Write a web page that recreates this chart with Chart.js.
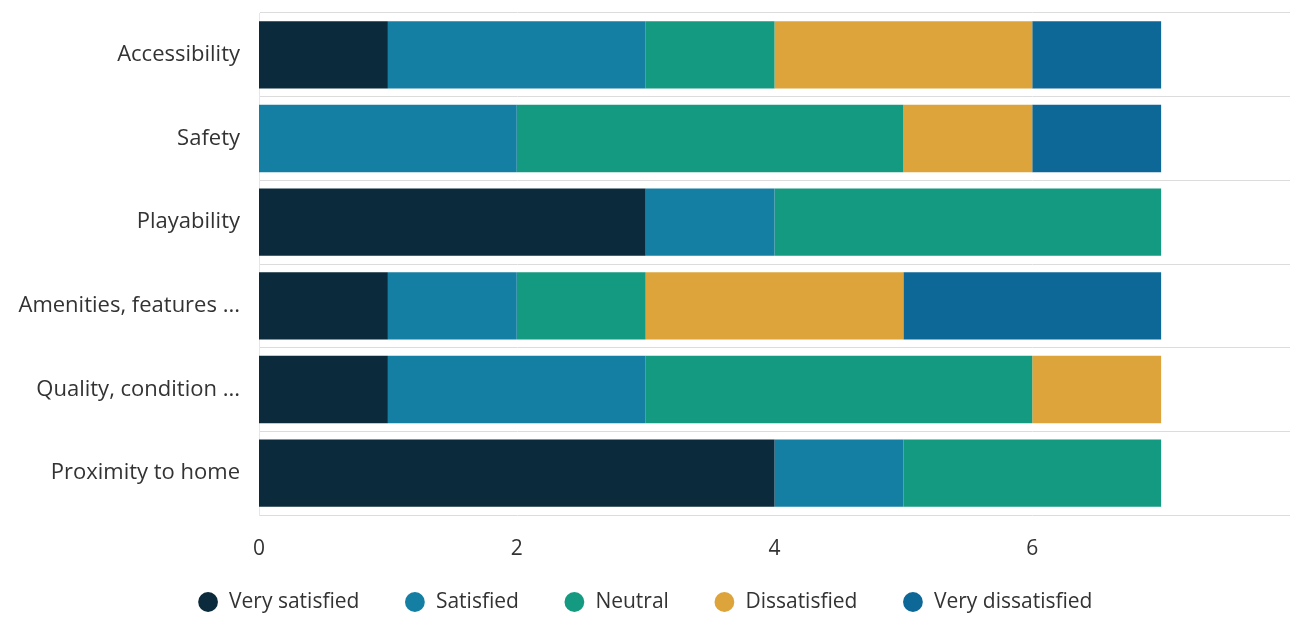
<!DOCTYPE html>
<html>
<head>
<meta charset="utf-8">
<script src="https://cdn.jsdelivr.net/npm/chart.js@4"></script>
<style>
html,body{margin:0;padding:0;background:#fff;}
#wrap{width:1290px;height:622px;position:relative;}
</style>
</head>
<body>
<div id="wrap"><canvas id="c"></canvas></div>
<script>
const categories = ["Accessibility","Safety","Playability","Amenities, features ...","Quality, condition ...","Proximity to home"];
const seriesNames = ["Very satisfied","Satisfied","Neutral","Dissatisfied","Very dissatisfied"];
const verySatisfied   = [1,0,3,1,1,4];
const satisfied       = [2,2,1,1,2,1];
const neutral         = [1,3,3,1,3,2];
const dissatisfied    = [2,1,0,2,1,0];
const veryDissatisfied= [1,1,0,2,0,0];
const xTicks = [0,2,4,6];
const colors = ["#0b2a3b","#147fa3","#149a80","#dca43b","#0e6897"];

const values = [verySatisfied,satisfied,neutral,dissatisfied,veryDissatisfied];
const font = "'Open Sans', 'Noto Sans', sans-serif";

// keeps the legend's wide item spacing without letting its padding eat vertical space
const legendFix = {
  id: 'legendFix',
  beforeLayout(chart) {
    const lg = chart.legend;
    if (lg && !lg._patched) {
      const f = lg.fit;
      lg.fit = function(){ f.call(this); this.height = 60; };
      lg._patched = true;
    }
  },
  afterLayout(chart) {
    const lg = chart.legend;
    if (!lg) return;
    lg.top = chart.chartArea.bottom + 31.5;
    lg.bottom = chart.height;
    lg.height = lg.bottom - lg.top;
  }
};

new Chart(document.getElementById('c'), {
  type: 'bar',
  data: {
    labels: categories,
    datasets: seriesNames.map((n,i)=>({
      label: n,
      data: values[i],
      backgroundColor: colors[i],
      borderWidth: 0,
      categoryPercentage: 1,
      barPercentage: 0.805
    }))
  },
  plugins: [legendFix],
  options: {
    indexAxis: 'y',
    responsive: true,
    maintainAspectRatio: false,
    animation: false,
    layout: {padding: {top: 13, right: 0, left: 0, bottom: 0}},
    scales: {
      x: {
        stacked: true,
        min: 0, max: 8,
        afterBuildTicks: (ax)=>{ ax.ticks = xTicks.map(v=>({value:v})); },
        grid: {display: false, drawTicks: false},
        border: {display: false},
        ticks: {color:'#333', font:{family:font,size:21}, padding: 21},
        afterFit: (ax)=>{ ax.height = 47; ax.paddingLeft = 0; ax.paddingRight = 0; }
      },
      y: {
        stacked: true,
        grid: {display: true, offset: true, color:'#dcdcdc', lineWidth:1, drawTicks:false},
        border: {display: true, color:'#e6e6e6'},
        ticks: {color:'#333', font:{family:font,size:22}, padding: 19},
        afterFit: (ax)=>{ ax.width = 259; ax.paddingTop = 0; ax.paddingBottom = 0; }
      }
    },
    plugins: {
      legend: {
        position: 'bottom',
        labels: {
          usePointStyle: true, pointStyle: 'circle', boxWidth: 21, boxHeight: 14,
          color:'#333', font:{family:font,size:21}, padding: 45
        }
      },
      tooltip: {enabled:false}
    }
  }
});
</script>
</body>
</html>
